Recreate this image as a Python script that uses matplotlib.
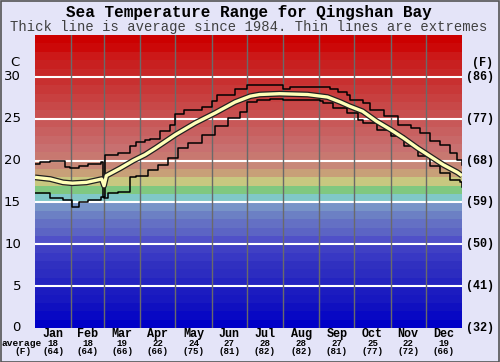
import matplotlib
matplotlib.use('Agg')
import matplotlib.pyplot as plt
from matplotlib.patches import Rectangle
import matplotlib.transforms as mtransforms

# --------------------------------------------
# dane

months = ['Jan', 'Feb', 'Mar', 'Apr', 'May', 'Jun', 'Jul', 'Aug', 'Sep', 'Oct', 'Nov', 'Dec']
month_start = [0, 31, 59, 90, 120, 151, 181, 212, 243, 273, 304, 334, 365]
avg_c = [18, 18, 19, 22, 24, 27, 28, 28, 27, 25, 22, 19]
avg_f = [64, 64, 66, 66, 75, 81, 82, 82, 81, 77, 72, 66]

max_day = [0, 4, 13, 26, 30, 38, 45, 56, 58.5, 59.5, 71, 81, 86, 94, 98, 107, 115, 120, 127, 143,
           151, 156, 171, 181, 201, 212, 218, 252, 259, 267, 269, 280, 286, 298, 310, 321, 329,
           338, 346, 355, 361, 365]
max_temp = [19.6, 19.8, 20.0, 19.2, 19.1, 19.4, 19.6, 19.8, 15.7, 20.7, 20.9, 21.7, 22.2, 22.5,
            22.6, 23.6, 24.3, 25.6, 26.0, 26.4, 27.1, 27.9, 28.6, 29.0, 29.0, 28.6, 28.8, 28.6,
            28.2, 27.8, 27.2, 26.9, 26.1, 25.3, 24.3, 23.9, 23.3, 22.3, 21.9, 20.9, 20.1, 19.5]

avg_day = [0, 13, 24, 32, 44, 57, 59, 61, 73, 84, 94, 103, 120, 137, 154, 171, 184, 192, 209,
           233, 250, 261, 269, 280, 292, 304, 315, 327, 338, 349, 361, 365]
avg_temp = [18.0, 17.8, 17.4, 17.3, 17.4, 17.8, 17.0, 18.2, 19.1, 20.0, 20.7, 21.5, 23.1, 24.5,
            25.7, 27.0, 27.7, 27.9, 28.0, 27.9, 27.6, 27.0, 26.5, 25.9, 24.7, 23.7, 22.7, 21.5,
            20.5, 19.5, 18.6, 18.2]

min_day = [0, 13, 24, 32, 38, 45, 56, 59, 62, 71, 81, 86, 97, 105, 114, 122, 131, 143, 154, 165,
           175, 181, 190, 201, 212, 244, 246, 255, 267, 276, 280, 292, 304, 315, 327, 338, 346,
           355, 363, 365]
min_temp = [16.1, 15.5, 15.3, 14.5, 15.1, 15.3, 15.7, 15.5, 16.1, 16.3, 18.1, 18.2, 18.9, 19.5,
            20.3, 21.5, 22.1, 23.1, 24.1, 25.1, 25.8, 27.0, 27.2, 27.4, 27.2, 27.1, 26.9, 26.3,
            25.7, 24.9, 24.5, 23.7, 22.9, 21.7, 20.5, 19.3, 18.5, 17.7, 17.4, 16.9]

# kolory pasów tła, po jednym stopniu od 0 do 35
band_colors = ['#0000c8', '#0808c4', '#1010c0', '#1818c0', '#1c1cc0', '#2424c0', '#2c2cc0',
               '#3030c0', '#3838c4', '#4040c4', '#5050c8', '#5c64c4', '#6470c4', '#6c80c4',
               '#7894c8', '#80c8c8', '#80c880', '#c8c880', '#c8a078', '#c88878', '#c87870',
               '#c87070', '#c86868', '#c86060', '#c85858', '#c85050', '#c84848', '#c84040',
               '#c83838', '#c83030', '#c82828', '#c82020', '#cc1818', '#cc0808', '#cc0000']

c_ticks = [0, 5, 10, 15, 20, 25, 30]
f_ticks = ['(32)', '(41)', '(50)', '(59)', '(68)', '(77)', '(86)']

mono = 'Liberation Mono'

# --------------------------------------------
fig = plt.figure(figsize=(5, 3.62), dpi=100, facecolor='#e4e4f8')
ax = fig.add_axes([0.07, 0.094, 0.854, 0.809])
ax.set_xlim(0, 365)
ax.set_ylim(0, 35)

for i, col in enumerate(band_colors):
    ax.axhspan(i, i + 1, color=col, lw=0, zorder=0)

for t in c_ticks[1:]:
    ax.axhline(t, color='white', lw=1.5, zorder=1)
for d in month_start[1:-1]:
    ax.axvline(d, color='#6a6a6a', lw=1, zorder=1)

ax.plot(max_day, max_temp, drawstyle='steps-post', color='black', lw=1.1, zorder=3)
ax.plot(min_day, min_temp, drawstyle='steps-post', color='black', lw=1.1, zorder=3)
ax.plot(avg_day, avg_temp, color='#202020', lw=4.2, zorder=4, solid_capstyle='butt')
ax.plot(avg_day, avg_temp, color='#ffffb8', lw=2.4, zorder=5, solid_capstyle='butt')

ax.set_xticks([])
ax.set_yticks([])
for s in ax.spines.values():
    s.set_visible(False)

# osie C i F
for t, f in zip(c_ticks, f_ticks):
    ax.text(-12, t, str(t), ha='right', va='center', fontsize=9.5, family='DejaVu Sans',
            transform=ax.transData, clip_on=False)
    ax.text(368, t, f, ha='left', va='center', fontsize=8.5, family=mono, weight='bold',
            clip_on=False)
fig.text(15 / 500, 1 - 62 / 362, 'C', ha='center', va='center', fontsize=9.5, family='DejaVu Sans')
fig.text(482 / 500, 1 - 63 / 362, '(F)', ha='center', va='center', fontsize=8.5, family=mono,
         weight='bold')

# etykiety miesięcy
trans = mtransforms.blended_transform_factory(ax.transData, fig.transFigure)
for i, m in enumerate(months):
    mid = (month_start[i] + month_start[i + 1]) / 2
    ax.text(mid, 1 - 334 / 362, m, ha='center', va='center', fontsize=8.5, family=mono,
            weight='bold', transform=trans)
    ax.text(mid, 1 - 343 / 362, str(avg_c[i]), ha='center', va='center', fontsize=6.6,
            family=mono, weight='bold', transform=trans)
    ax.text(mid, 1 - 352 / 362, '(%d)' % avg_f[i], ha='center', va='center', fontsize=6.6,
            family=mono, weight='bold', transform=trans)
fig.text(22 / 500, 1 - 343 / 362, 'average', ha='center', va='center', fontsize=6.8, family=mono,
         weight='bold')
fig.text(23 / 500, 1 - 352 / 362, '(F)', ha='center', va='center', fontsize=6.8, family=mono,
         weight='bold')

# tytuły
fig.text(0.497, 1 - 12 / 362, 'Sea Temperature Range for Qingshan Bay', ha='center', va='center',
         fontsize=11.5, family=mono, weight='bold')
fig.text(0.497, 1 - 27 / 362, 'Thick line is average since 1984. Thin lines are extremes',
         ha='center', va='center', fontsize=10, family=mono, color='#404040')

fig.patches.append(Rectangle((0.001, 0.001), 0.997, 0.997, transform=fig.transFigure,
                             fill=False, edgecolor='#555555', lw=1.2))

fig.savefig('out.png', dpi=100, facecolor=fig.get_facecolor())
